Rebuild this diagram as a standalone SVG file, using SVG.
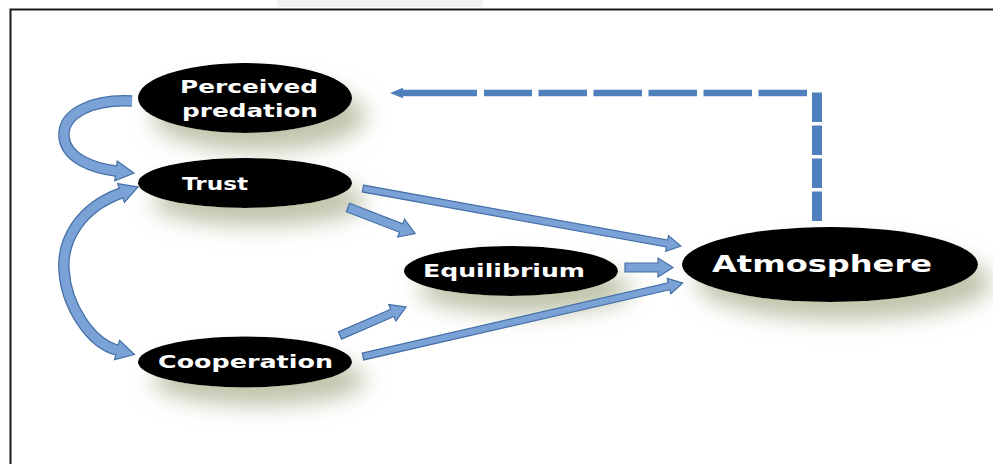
<svg xmlns="http://www.w3.org/2000/svg" width="993" height="464" viewBox="0 0 993 464">
<style>
.node{fill:#000000;filter:url(#sh)}
.lbl{font-family:"DejaVu Sans","Liberation Sans",sans-serif;font-weight:bold;fill:#ffffff;font-size:18.5px}
.blk{fill:#7ba2d6;stroke:#4470a6;stroke-width:1.2;stroke-linejoin:miter}
.cvo{fill:none;stroke:#4470a6;stroke-width:11.5}
.cvf{fill:none;stroke:#7ba2d6;stroke-width:9}
.dash{fill:none;stroke:#4f7fbc}
</style>
<defs>
<filter id="sh" x="-30%" y="-60%" width="170%" height="260%">
<feGaussianBlur in="SourceAlpha" stdDeviation="11" result="b"/>
<feOffset in="b" dx="14" dy="18" result="o"/>
<feFlood flood-color="#98a178" flood-opacity="0.62"/>
<feComposite in2="o" operator="in" result="s"/>
<feMerge><feMergeNode in="s"/><feMergeNode in="SourceGraphic"/></feMerge>
</filter>
</defs>
<rect x="0" y="0" width="993" height="464" fill="#ffffff"/>
<rect x="277" y="0" width="206" height="7" fill="#f3f3f3"/>
<path d="M10.5,464 V9.5 H993" fill="none" stroke="#1a1a1a" stroke-width="2"/>

<g id="perceived-predation">
  <ellipse class="node" cx="245" cy="98" rx="107" ry="35"/>
  <text class="lbl" x="180" y="93" textLength="138" lengthAdjust="spacingAndGlyphs">Perceived</text>
  <text class="lbl" x="182" y="117" textLength="136" lengthAdjust="spacingAndGlyphs">predation</text>
</g>
<g id="trust">
  <ellipse class="node" cx="245" cy="183" rx="107" ry="25"/>
  <text class="lbl" x="182" y="190" textLength="66" lengthAdjust="spacingAndGlyphs">Trust</text>
</g>
<g id="equilibrium">
  <ellipse class="node" cx="511" cy="271" rx="107" ry="25"/>
  <text class="lbl" x="423" y="277" textLength="162" lengthAdjust="spacingAndGlyphs">Equilibrium</text>
</g>
<g id="cooperation">
  <ellipse class="node" cx="245" cy="362" rx="107" ry="25.5"/>
  <text class="lbl" x="158" y="368" textLength="175" lengthAdjust="spacingAndGlyphs">Cooperation</text>
</g>
<g id="atmosphere">
  <ellipse class="node" cx="830" cy="264.5" rx="148" ry="37.5"/>
  <text class="lbl" x="712" y="272" style="font-size:23.5px" textLength="220" lengthAdjust="spacingAndGlyphs">Atmosphere</text>
</g>

<g id="connectors">
  <!-- Perceived predation -> Trust (curved) -->
  <path class="cvo" d="M132,101 C95,99 62,112 64,137 C66,158 92,168 116,171"/>
  <polygon class="blk" points="117.2,161.1 133.9,173.2 114.8,180.9"/>
  <path class="cvf" d="M132,101 C95,99 62,112 64,137 C66,158 92,168 116,171 L119,171.4"/>
  <!-- Trust <-> Cooperation (curved, double) -->
  <path class="cvo" d="M121,193 C80,208 62,240 64,270 C66,305 90,343 117,350"/>
  <polygon class="blk" points="117.6,183.6 138,187 124.4,202.4"/>
  <polygon class="blk" points="119.5,340.3 134.4,354.5 114.5,359.7"/>
  <path class="cvf" d="M123.5,192 L121,193 C80,208 62,240 64,270 C66,305 90,343 117,350 L119.5,350.6"/>
  <!-- Trust -> Equilibrium -->
  <polygon class="blk" transform="translate(348,207.5) rotate(21.2)" points="0,-4.5 57,-4.5 57,-9.5 72,0 57,9.5 57,4.5 0,4.5"/>
  <!-- Trust -> Atmosphere -->
  <polygon class="blk" transform="translate(363,188.5) rotate(10.25)" points="0,-3.5 309,-3.5 309,-8 323,0 309,8 309,3.5 0,3.5"/>
  <!-- Equilibrium -> Atmosphere -->
  <polygon class="blk" transform="translate(625,267.5)" points="0,-4.5 33,-4.5 33,-9.5 48,0 33,9.5 33,4.5 0,4.5"/>
  <!-- Cooperation -> Equilibrium -->
  <polygon class="blk" transform="translate(340,335.5) rotate(-23.4)" points="0,-4 57,-4 57,-9 72,0 57,9 57,4 0,4"/>
  <!-- Cooperation -> Atmosphere -->
  <polygon class="blk" transform="translate(363,356.5) rotate(-12.94)" points="0,-3.5 314,-3.5 314,-8 328,0 314,8 314,3.5 0,3.5"/>
  <!-- Atmosphere -> Perceived predation (dashed feedback) -->
  <path class="dash" d="M817,221 V91" stroke-width="10" stroke-dasharray="29.5 3.5"/>
  <path class="dash" d="M807,93 H484" stroke-width="6.5" stroke-dasharray="48.5 6.5"/>
  <path class="dash" d="M477,93 H401" stroke-width="6.5"/>
  <polygon points="403,87.8 390,93 403,98.2" fill="#4f7fbc"/>
</g>
</svg>
